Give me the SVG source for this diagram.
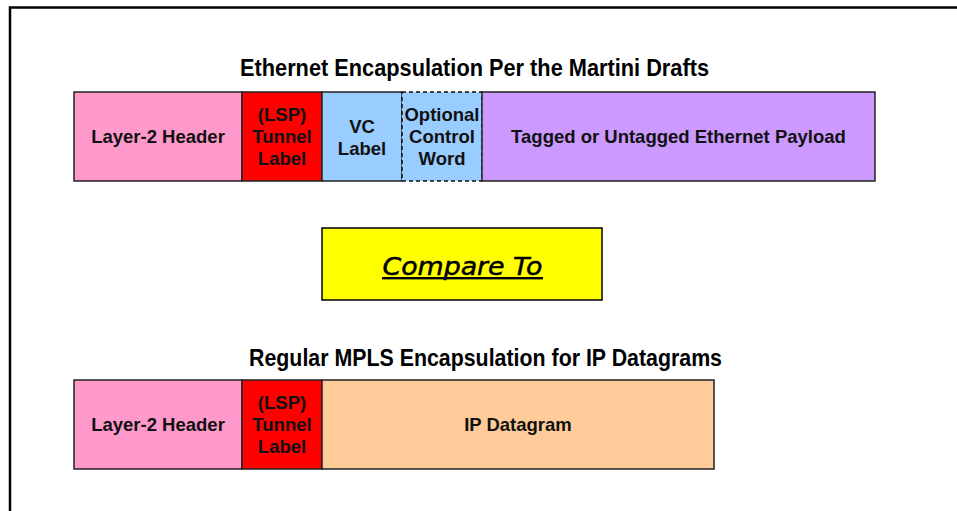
<svg xmlns="http://www.w3.org/2000/svg" width="957" height="511" viewBox="0 0 957 511">
  <style>
    .frame { fill: none; stroke: #000; stroke-width: 2.5; }
    .cell { stroke: #222; stroke-width: 1.5; }
    .dash { stroke: #111; stroke-width: 1.5; stroke-dasharray: 4 3; }
    .lbl { font-family: "Liberation Sans", Arial, sans-serif; font-weight: bold; font-size: 18.5px; fill: #111; text-anchor: middle; }
    .title { font-family: "Liberation Sans", Arial, sans-serif; font-weight: bold; font-size: 24px; fill: #000; text-anchor: middle; }
    .cmp { font-family: "DejaVu Sans", Verdana, sans-serif; font-style: italic; font-size: 25px; fill: #000; stroke: #000; stroke-width: 0.5; text-anchor: middle; }
  </style>

  <!-- outer frame: top and left edges -->
  <path class="frame" d="M10,511 V7.5 H957"/>

  <!-- Martini encapsulation -->
  <text class="title" x="474.5" y="76" textLength="469" lengthAdjust="spacingAndGlyphs">Ethernet Encapsulation Per the Martini Drafts</text>

  <g id="m-l2">
    <rect class="cell" x="74" y="92" width="168" height="89" fill="#FF99CC"/>
    <text class="lbl" x="158" y="143">Layer-2 Header</text>
  </g>
  <g id="m-tunnel">
    <rect class="cell" x="242" y="92" width="80" height="89" fill="#FF0000"/>
    <text class="lbl" x="282" y="121">(LSP)</text>
    <text class="lbl" x="282" y="143">Tunnel</text>
    <text class="lbl" x="282" y="165">Label</text>
  </g>
  <g id="m-vc">
    <rect class="cell" x="322" y="92" width="80" height="89" fill="#99CCFF"/>
    <text class="lbl" x="362" y="133">VC</text>
    <text class="lbl" x="362" y="155">Label</text>
  </g>
  <g id="m-cw">
    <rect class="dash" x="402" y="92" width="80" height="89" fill="#99CCFF"/>
    <text class="lbl" x="442" y="121">Optional</text>
    <text class="lbl" x="442" y="143">Control</text>
    <text class="lbl" x="442" y="165">Word</text>
  </g>
  <g id="m-payload">
    <rect class="cell" x="482" y="92" width="393" height="89" fill="#CC99FF"/>
    <text class="lbl" x="678.5" y="143">Tagged or Untagged Ethernet Payload</text>
  </g>

  <!-- comparison marker -->
  <g id="compare">
    <rect x="322" y="228" width="280" height="72" fill="#FFFF00" stroke="#000" stroke-width="1.5"/>
    <text class="cmp" x="462.5" y="275" textLength="160" lengthAdjust="spacingAndGlyphs">Compare To</text>
    <rect x="382" y="277" width="161" height="2.4" fill="#000"/>
  </g>

  <!-- Regular MPLS encapsulation -->
  <text class="title" x="485.5" y="366" textLength="473" lengthAdjust="spacingAndGlyphs">Regular MPLS Encapsulation for IP Datagrams</text>

  <g id="r-l2">
    <rect class="cell" x="74" y="380" width="168" height="89" fill="#FF99CC"/>
    <text class="lbl" x="158" y="431">Layer-2 Header</text>
  </g>
  <g id="r-tunnel">
    <rect class="cell" x="242" y="380" width="80" height="89" fill="#FF0000"/>
    <text class="lbl" x="282" y="409">(LSP)</text>
    <text class="lbl" x="282" y="431">Tunnel</text>
    <text class="lbl" x="282" y="453">Label</text>
  </g>
  <g id="r-ip">
    <rect class="cell" x="322" y="380" width="392" height="89" fill="#FFCC99"/>
    <text class="lbl" x="518" y="431">IP Datagram</text>
  </g>

  <g id="connectors"/>
</svg>
